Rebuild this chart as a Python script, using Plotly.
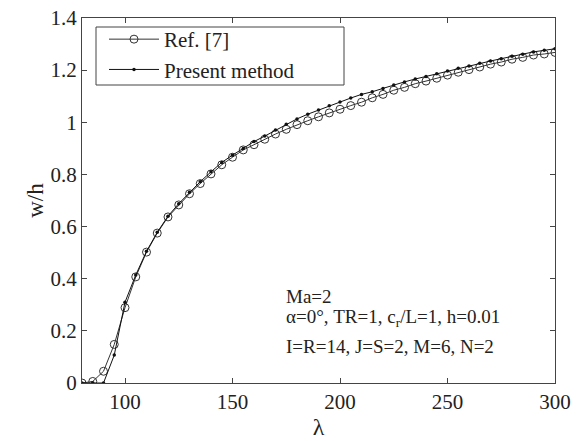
import plotly.graph_objects as go

lam = [80, 85, 90, 95, 100, 105, 110, 115, 120, 125, 130, 135, 140, 145, 150,
       155, 160, 165, 170, 175, 180, 185, 190, 195, 200, 205, 210, 215, 220,
       225, 230, 235, 240, 245, 250, 255, 260, 265, 270, 275, 280, 285, 290, 295, 300]

ref7 = [0.0, 0.006, 0.045, 0.148, 0.289, 0.407, 0.502, 0.575, 0.637, 0.683, 0.726, 0.765,
        0.802, 0.837, 0.866, 0.894, 0.914, 0.935, 0.955, 0.973, 0.991, 1.006, 1.021,
        1.036, 1.050, 1.064, 1.077, 1.094, 1.107, 1.123, 1.134, 1.148, 1.158, 1.169,
        1.181, 1.192, 1.202, 1.212, 1.223, 1.231, 1.242, 1.249, 1.258, 1.262, 1.268]

present = [0.0, 0.001, 0.0, 0.107, 0.310, 0.414, 0.505, 0.578, 0.640, 0.688, 0.732, 0.772,
           0.810, 0.846, 0.874, 0.899, 0.926, 0.947, 0.970, 0.992, 1.013, 1.031, 1.047,
           1.063, 1.078, 1.093, 1.107, 1.117, 1.130, 1.143, 1.155, 1.166, 1.176, 1.186,
           1.197, 1.207, 1.216, 1.226, 1.235, 1.244, 1.253, 1.261, 1.270, 1.276, 1.282]

xticks = [100, 150, 200, 250, 300]
yticks = [0, 0.2, 0.4, 0.6, 0.8, 1.0, 1.2, 1.4]
ytick_text = ["0", "0.2", "0.4", "0.6", "0.8", "1", "1.2", "1.4"]

FONT = "Liberation Serif, Times New Roman, serif"
INK = "#222222"

fig = go.Figure()
fig.add_trace(go.Scatter(
    x=lam, y=ref7, mode="lines+markers", name="Ref. [7]",
    line=dict(color="#333333", width=1),
    marker=dict(symbol="circle-open", size=8, color="#333333", line=dict(width=1)),
))
fig.add_trace(go.Scatter(
    x=lam, y=present, mode="lines+markers", name="Present method",
    line=dict(color="#111111", width=1),
    marker=dict(symbol="circle", size=3.5, color="#111111"),
))

axis_common = dict(
    showline=True, linecolor="#444444", linewidth=1, mirror="ticks",
    ticks="inside", ticklen=5, tickcolor="#444444",
    showgrid=False, zeroline=False, automargin=False,
    ticklabeloverflow="allow",
    tickfont=dict(family=FONT, size=21, color=INK),
)

fig.update_xaxes(range=[80, 300], tickvals=xticks,
                 title=dict(text="λ", font=dict(family=FONT, size=24, color=INK), standoff=0),
                 **axis_common)
fig.update_yaxes(range=[0, 1.4], tickvals=yticks, ticktext=ytick_text,
                 title=dict(text="w/h", font=dict(family=FONT, size=23, color=INK), standoff=0),
                 **axis_common)

W, H = 583, 441
L, T, R, B = 82, 18, 583 - 555, 441 - 383
pw, ph = W - L - R, H - T - B

def px(xp):  # page pixel -> paper x
    return (xp - L) / pw

def py(yp):  # page pixel -> paper y
    return (H - B - yp) / ph

ann_font = dict(family=FONT, size=19, color=INK)
fig.add_annotation(x=px(284), y=py(296), xref="paper", yref="paper", text="Ma=2",
                   showarrow=False, xanchor="left", yanchor="middle", font=ann_font)
fig.add_annotation(x=px(284), y=py(318), xref="paper", yref="paper",
                   text="α=0°, TR=1, c<sub>r</sub>/L=1, h=0.01",
                   showarrow=False, xanchor="left", yanchor="middle", font=ann_font)
fig.add_annotation(x=px(284), y=py(346), xref="paper", yref="paper",
                   text="I=R=14, J=S=2, M=6, N=2",
                   showarrow=False, xanchor="left", yanchor="middle", font=ann_font)

# legend frame (wider than the auto legend box, as in the reference)
fig.add_shape(type="rect", xref="paper", yref="paper",
              x0=px(96), x1=px(344), y0=py(85), y1=py(27),
              line=dict(color="#444444", width=1), fillcolor="white", layer="below")

fig.update_layout(
    width=W, height=H,
    margin=dict(l=L, r=R, t=T, b=B, autoexpand=False),
    plot_bgcolor="white", paper_bgcolor="white",
    showlegend=True,
    legend=dict(
        x=px(104), y=py(19), xanchor="left", yanchor="top",
        borderwidth=0, bgcolor="rgba(0,0,0,0)",
        font=dict(family=FONT, size=21, color=INK),
        itemwidth=50, tracegroupgap=0,
    ),
)

fig.write_html("out.html", config={"displayModeBar": False},
               post_script="document.body.style.margin='0';")
